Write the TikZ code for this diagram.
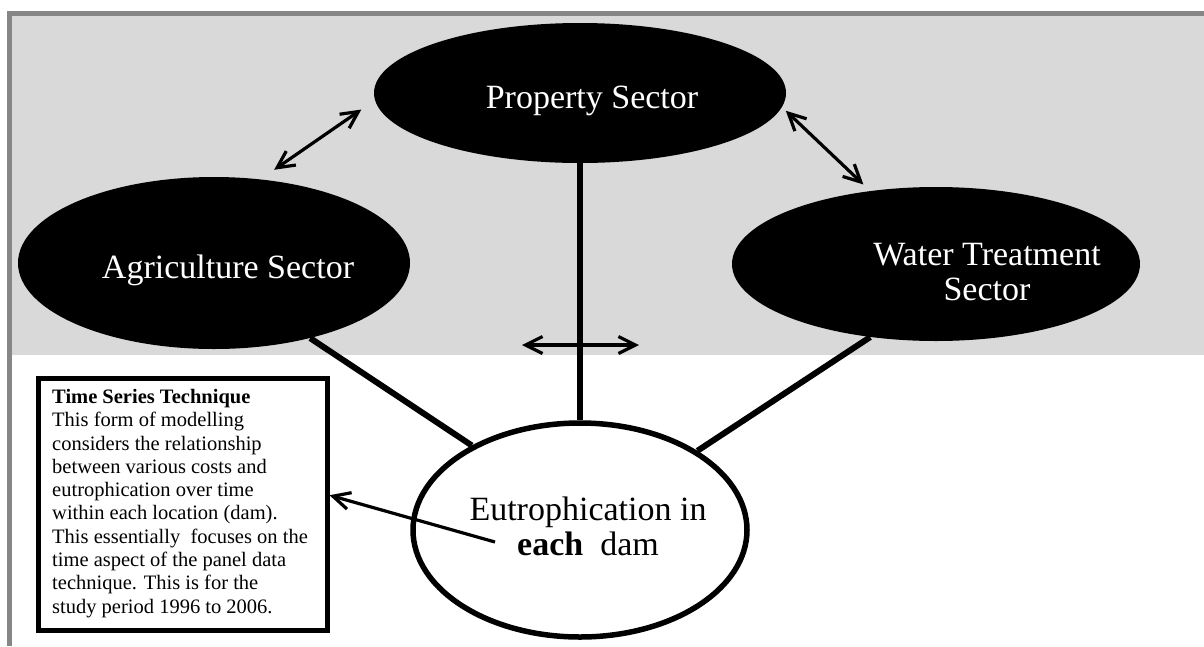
\documentclass[tikz,border=0pt]{standalone}
\usepackage{fontspec}
\setmainfont{Liberation Serif}
\usetikzlibrary{shapes.geometric,arrows.meta}

\definecolor{panelgray}{HTML}{D9D9D9}
\definecolor{framegray}{HTML}{868686}

\begin{document}
\begin{tikzpicture}[x=1pt,y=-1pt,
  sector/.style={ellipse, fill=black, draw=none, inner sep=0pt},
  sectortext/.style={text=white, font=\fontsize{34}{35}\selectfont, align=center, inner sep=0pt},
  link/.style={line width=6pt},
  barb/.style={Straight Barb[length=17pt,width=17pt]},
  twoway/.style={line width=3.2pt, {Straight Barb[length=17pt,width=17pt]}-{Straight Barb[length=17pt,width=17pt]}},
  oneway/.style={line width=3.2pt, -{Straight Barb[length=17pt,width=17pt]}},
]
\useasboundingbox (0,0) rectangle (1204,646);
\fill[white] (0,0) rectangle (1204,646);

% shaded upper panel and its frame
\fill[panelgray] (12,15) rectangle (1204,355);
\draw[framegray, line width=5pt] (9.5,646) -- (9.5,13) -- (1204,13);

% the three sectors
\node[sector, minimum width=412, minimum height=140] (prop) at (580,93) {};
\node[sector, minimum width=392, minimum height=172] (agr) at (214,263) {};
\node[sector, minimum width=408, minimum height=154] (water) at (936,264) {};

\node[sectortext, anchor=base] (proptxt) at (592,108) {Property Sector};
\node[sectortext, anchor=base] (agrtxt) at (228,278) {Agriculture Sector};
\node[sectortext, anchor=base] (watertxt) at (987,300) {Water Treatment\\Sector};

% central ellipse
\node[ellipse, draw=black, fill=white, line width=5.5pt, minimum width=334, minimum height=214, inner sep=0pt] (eut) at (580,530) {};
\node[font=\fontsize{34}{35}\selectfont, align=center, inner sep=0pt, anchor=base] (euttxt) at (588,555)
  {Eutrophication in\\\textbf{each}\ \ dam};

% links from the sectors to the dam
\draw[link] (agr.-38) -- (eut.142);
\draw[link] (prop.south) -- (eut.north);
\draw[link] (water.-132) -- (eut.34);

% interactions between sectors
\draw[twoway, shorten <=16.7pt, shorten >=16.5pt] (agr.61.7) -- (prop.182);
\draw[twoway, shorten <=5.3pt, shorten >=9.4pt] (prop.-4.4) -- (water.132);
\coordinate (hl) at (522,345);
\coordinate (hr) at (639,345);
\draw[twoway] (hl) -- (hr);

% explanatory box
\node[draw=black, line width=5pt, fill=white, minimum width=289, minimum height=251.5, inner sep=0pt, anchor=north west] (box) at (35.5,376) {};
\node[font=\fontsize{20.5}{23.3}\selectfont, align=left, inner sep=0pt, anchor=north west] (boxtxt) at (52,389)
  {\textbf{Time Series Technique}\\
   This form of modelling\\
   considers the relationship\\
   between various costs and\\
   eutrophication over time\\
   within each location (dam).\\
   This essentially\ \ focuses on the\\
   time aspect of the panel data\\
   technique. This is for the\\
   study period 1996 to 2006.};

\coordinate (from) at (495,542);
\draw[oneway] (from) -- ([yshift=9pt]box.east);
\end{tikzpicture}
\end{document}
